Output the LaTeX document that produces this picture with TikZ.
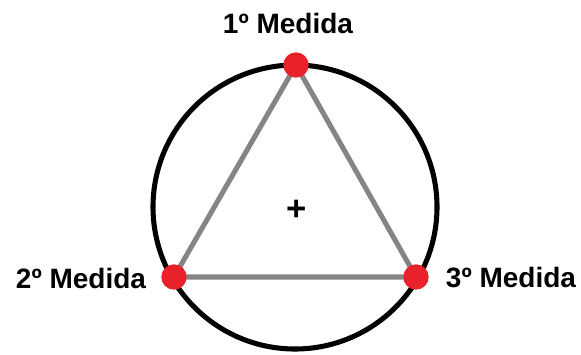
\documentclass[tikz,border=0pt]{standalone}
\usepackage{fontspec}
\setmainfont{Liberation Sans}
\usetikzlibrary{positioning}
\definecolor{dotred}{HTML}{E8212B}
\definecolor{edgegray}{HTML}{858585}
\tikzset{
  ring/.style={draw=black, line width=3.8pt},
  side/.style={draw=edgegray, line width=3.8pt},
  probe/.style={circle, fill=dotred, inner sep=0pt, minimum size=19pt},
  tag/.style={font=\bfseries\fontsize{21}{24}\selectfont, inner sep=0pt},
  centremark/.style={font=\bfseries\fontsize{26}{28}\selectfont, inner sep=0pt}
}
\def\rad{142}

\begin{document}
\begin{tikzpicture}[x=0.75pt, y=-0.75pt]
\useasboundingbox (0,0) rectangle (581,354);

%% Circle and its centre
\coordinate (mid) at (295, 207);
\draw[ring] (mid) circle (\rad);
\node[centremark] (centre) at (297, 210) {+};

%% Measuring points
\coordinate (p1) at (296, 65);
\coordinate (p2) at (174, 277);
\coordinate (p3) at (416, 277);

%% Triangle
\draw[side] (p1) -- (p2) -- (p3) -- cycle;
\node[probe] (first)  at (p1) {};
\node[probe] (second) at (p2) {};
\node[probe] (third)  at (p3) {};

%% Labels
\node[tag] (firstlbl)  at (288, 23)  {1º Medida};
\node[tag] (secondlbl) at (81, 278)  {2º Medida};
\node[tag] (thirdlbl)  at (511, 278) {3º Medida};

\end{tikzpicture}
\end{document}
